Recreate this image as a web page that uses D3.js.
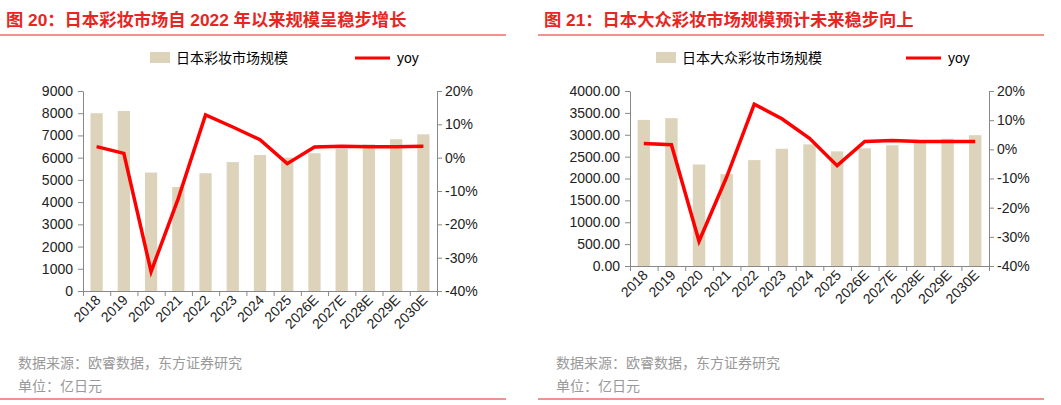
<!DOCTYPE html>
<html><head><meta charset="utf-8">
<script src="https://cdn.jsdelivr.net/npm/d3@7"></script>
<style>body{margin:0;background:#fff;font-family:"Liberation Sans","Noto Sans CJK SC",sans-serif}</style>
</head><body>
<script>
const years = ["2018","2019","2020","2021","2022","2023","2024","2025","2026E","2027E","2028E","2029E","2030E"];
const sizeA = [8000,8100,5330,4680,5300,5800,6120,6000,6200,6400,6600,6830,7050];
const yoyA = [3.3,1.3,-34.2,-12.2,12.8,9.2,5.4,-1.8,3.2,3.4,3.3,3.3,3.4];
const sizeB = [3340,3380,2320,2100,2420,2680,2780,2620,2690,2760,2840,2910,2990];
const yoyB = [2.0,1.6,-31.5,-9.5,15.5,10.5,3.8,-5.6,2.7,3.0,2.7,2.7,2.7];

const svg = d3.select("body").append("svg").attr("width",1061).attr("height",405);
const font = '"Liberation Sans","Noto Sans CJK SC",sans-serif';

function panel(ox, title, legendName, sizes, yoy, left, yMax, yStep, fmt) {
  const g = svg.append("g");
  g.append("text").attr("x",ox+6).attr("y",26).attr("fill","#e8251f").attr("font-size",17.3).attr("font-weight","bold")
    .attr("font-family",font).text(title);
  g.append("line").attr("x1",ox).attr("x2",ox+506).attr("y1",35).attr("y2",35).attr("stroke","#e8251f").attr("stroke-width",1.2);
  // legend
  const lx = ox + (ox===0 ? 150 : 118);
  g.append("rect").attr("x",lx).attr("y",52).attr("width",20).attr("height",11).attr("fill","#ddd3bb");
  g.append("text").attr("x",lx+26).attr("y",63).attr("font-size",14).attr("font-family",font).text(legendName);
  const lx2 = lx + (ox===0 ? 205 : 250);
  g.append("line").attr("x1",lx2).attr("x2",lx2+35).attr("y1",58).attr("y2",58).attr("stroke","#ff0000").attr("stroke-width",3);
  g.append("text").attr("x",lx2+42).attr("y",63).attr("font-size",14).attr("font-family",font).text("yoy");

  const right = left + (ox===0 ? 354 : 359);
  const top = 91, bottom = ox===0 ? 291 : 266;
  const x = d3.scaleBand().domain(years).range([left,right]).paddingInner(0.55).paddingOuter(0.275);
  const y = d3.scaleLinear().domain([0,yMax]).range([bottom,top]);
  const y2 = d3.scaleLinear().domain([-40,20]).range([bottom,top]);

  g.selectAll(".bar").data(sizes).join("rect").attr("x",(d,i)=>x(years[i])).attr("width",x.bandwidth())
    .attr("y",d=>y(d)).attr("height",d=>bottom-y(d)).attr("fill","#ddd3bb");

  const ax = g.append("g").attr("transform",`translate(${left},0)`)
    .call(d3.axisLeft(y).tickValues(d3.range(0,yMax+1,yStep)).tickFormat(fmt).tickSize(5).tickSizeOuter(0));
  const ax2 = g.append("g").attr("transform",`translate(${right},0)`)
    .call(d3.axisRight(y2).tickValues(d3.range(-40,21,10)).tickFormat(d=>d+"%").tickSize(5).tickSizeOuter(0));
  const axb = g.append("g").attr("transform",`translate(0,${bottom})`)
    .call(d3.axisBottom(d3.scalePoint().domain(d3.range(14)).range([left,right])).tickFormat("").tickSize(5).tickSizeOuter(0));
  [ax,ax2,axb].forEach(a=>{a.selectAll("path,line").attr("stroke","#888");
    a.selectAll("text").attr("font-size",14).attr("font-family",font).attr("fill","#222");});
  ax.selectAll("text").attr("dx",-2);
  g.selectAll(".xl").data(years).join("text")
    .attr("transform",d=>`translate(${x(d)+x.bandwidth()/2+5},${bottom+10}) rotate(-45)`)
    .attr("text-anchor","end").attr("font-size",14).attr("font-family",font).attr("fill","#222").text(d=>d);

  g.append("path").datum(yoy).attr("fill","none").attr("stroke","#ff0000").attr("stroke-width",3.5)
    .attr("d",d3.line().x((d,i)=>x(years[i])+x.bandwidth()/2).y(d=>y2(d)));

  g.append("text").attr("x",ox+18).attr("y",368).attr("font-size",14).attr("fill","#999").attr("font-family",font).text("数据来源：欧睿数据，东方证券研究");
  g.append("text").attr("x",ox+18).attr("y",391).attr("font-size",14).attr("fill","#999").attr("font-family",font).text("单位：亿日元");
  g.append("line").attr("x1",ox).attr("x2",ox+506).attr("y1",399).attr("y2",399).attr("stroke","#e8251f").attr("stroke-width",1.2);
}

panel(0, "图 20：日本彩妆市场自 2022 年以来规模呈稳步增长", "日本彩妆市场规模", sizeA, yoyA, 83, 9000, 1000, d=>d);
panel(538, "图 21：日本大众彩妆市场规模预计未来稳步向上", "日本大众彩妆市场规模", sizeB, yoyB, 630, 4000, 500, d=>d.toFixed(2));
</script>
</body></html>
